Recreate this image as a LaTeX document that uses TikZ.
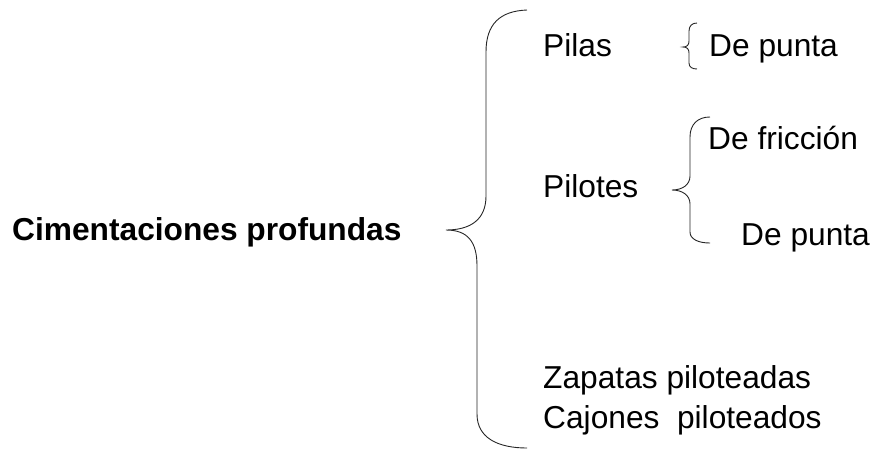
\documentclass[tikz,border=0pt]{standalone}
\usepackage{fontspec}
\setmainfont{Liberation Sans}
\begin{document}
\begin{tikzpicture}[x=1pt,y=-1pt,
  lbl/.style={anchor=base west,inner sep=0pt,font=\fontsize{31.7}{36}\selectfont},
  ttl/.style={lbl,font=\fontsize{31.7}{36}\selectfont\bfseries},
  brace/.style={draw=black!85,line width=0.9pt}]
\useasboundingbox (0,0) rectangle (882,451);
% texts
\node[ttl] (cim) at (12,240) {Cimentaciones profundas};
\node[lbl] (pilas) at (543,56) {Pilas};
\node[lbl] (dp1) at (709,56) {De punta};
\node[lbl] (pilotes) at (543,197) {Pilotes};
\node[lbl] (dfr) at (708,149) {De fricción};
\node[lbl] (dp2) at (741,245) {De punta};
\node[lbl] (zap) at (543,388) {Zapatas piloteadas};
\node[lbl] (caj) at (543,428) {Cajones\ \ piloteados};
% big brace
\draw[brace] (527,10) .. controls (500,11) and (486,24) .. (486,52)
  -- (486,196) .. controls (486,220) and (470,230) .. (446,230)
  .. controls (468,230) and (477,242) .. (477,266)
  -- (477,414) .. controls (477,438) and (498,448) .. (527,448);
% Pilas brace
\draw[brace] (697,23) .. controls (692,23) and (689,26) .. (689,31)
  -- (689,41) .. controls (689,45) and (687,47) .. (683,47)
  .. controls (687,47) and (689,49) .. (689,53)
  -- (689,63) .. controls (689,67) and (692,69) .. (697,69);
% Pilotes brace
\draw[brace] (710,117) .. controls (698,117) and (690,124) .. (690,137)
  -- (690,176) .. controls (690,185) and (682,190) .. (672,190)
  .. controls (682,190) and (690,195) .. (690,204)
  -- (690,232) .. controls (690,239) and (698,243) .. (710,243);
\end{tikzpicture}
\end{document}
